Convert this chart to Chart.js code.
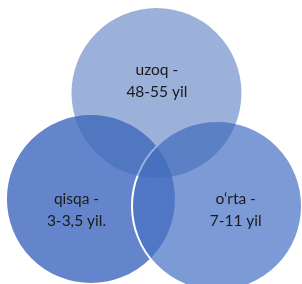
<!DOCTYPE html>
<html>
<head>
<meta charset="utf-8">
<script src="https://cdn.jsdelivr.net/npm/chart.js@4.4.1/dist/chart.umd.min.js"></script>
<style>
  html, body { margin: 0; padding: 0; background: #fff; }
  #wrap { width: 302px; height: 284px; }
</style>
</head>
<body>
<div id="wrap"><canvas id="venn" width="302" height="284"></canvas></div>
<script>
// Venn sets, drawn in this order: top, right, left
const categories = ['uzoq', 'o\u2018rta', 'qisqa'];
const labelLines = [
  ['uzoq -', '48-55 yil'],
  ['o\u2018rta -', '7-11 yil'],
  ['qisqa -', '3-3,5 yil.']
];
// circle centres in units of the circle radius
const centerX = [0, 0.712, -0.771];
const centerY = [0, -1.329, -1.247];
const radius = 1;
// label offsets from each centre, same units
const labelDX = [0.005, 0.22, -0.17];
const labelDY = [0.14, -0.05, -0.13];

const fills = ['rgba(64, 105, 185, 0.52)', 'rgba(73, 115, 197, 0.72)', 'rgba(79, 116, 196, 0.88)'];
const borders = [0, 2, 2];

const vennLabels = {
  id: 'vennLabels',
  afterDatasetsDraw(chart) {
    const { ctx, scales: { x, y } } = chart;
    ctx.save();
    ctx.font = '15.5px Lato, "Liberation Sans", sans-serif';
    ctx.fillStyle = '#1a1a1a';
    ctx.textAlign = 'center';
    ctx.textBaseline = 'middle';
    labelLines.forEach((lines, i) => {
      const px = x.getPixelForValue(centerX[i] + labelDX[i]);
      const py = y.getPixelForValue(centerY[i] + labelDY[i]);
      lines.forEach((line, j) => {
        ctx.fillText(line, px, py + (j - (lines.length - 1) / 2) * 22);
      });
    });
    ctx.restore();
  }
};

const radiusPx = (c) => {
  const xs = c.chart.scales.x;
  return xs.getPixelForValue(radius) - xs.getPixelForValue(0);
};

new Chart(document.getElementById('venn').getContext('2d'), {
  type: 'scatter',
  data: {
    labels: categories,
    datasets: categories.map((name, i) => ({
      label: name,
      data: [{ x: centerX[i], y: centerY[i] }],
      backgroundColor: fills[i],
      borderColor: '#ffffff',
      borderWidth: borders[i],
      pointRadius: radiusPx,
      pointHoverRadius: radiusPx,
      clip: false
    }))
  },
  options: {
    responsive: false,
    animation: false,
    events: [],
    layout: { padding: 0 },
    plugins: { legend: { display: false }, tooltip: { enabled: false } },
    scales: {
      x: { type: 'linear', display: false, min: -1.841, max: 1.712 },
      y: { type: 'linear', display: false, min: -2.247, max: 1.094 }
    }
  },
  plugins: [vennLabels]
});
</script>
</body>
</html>
